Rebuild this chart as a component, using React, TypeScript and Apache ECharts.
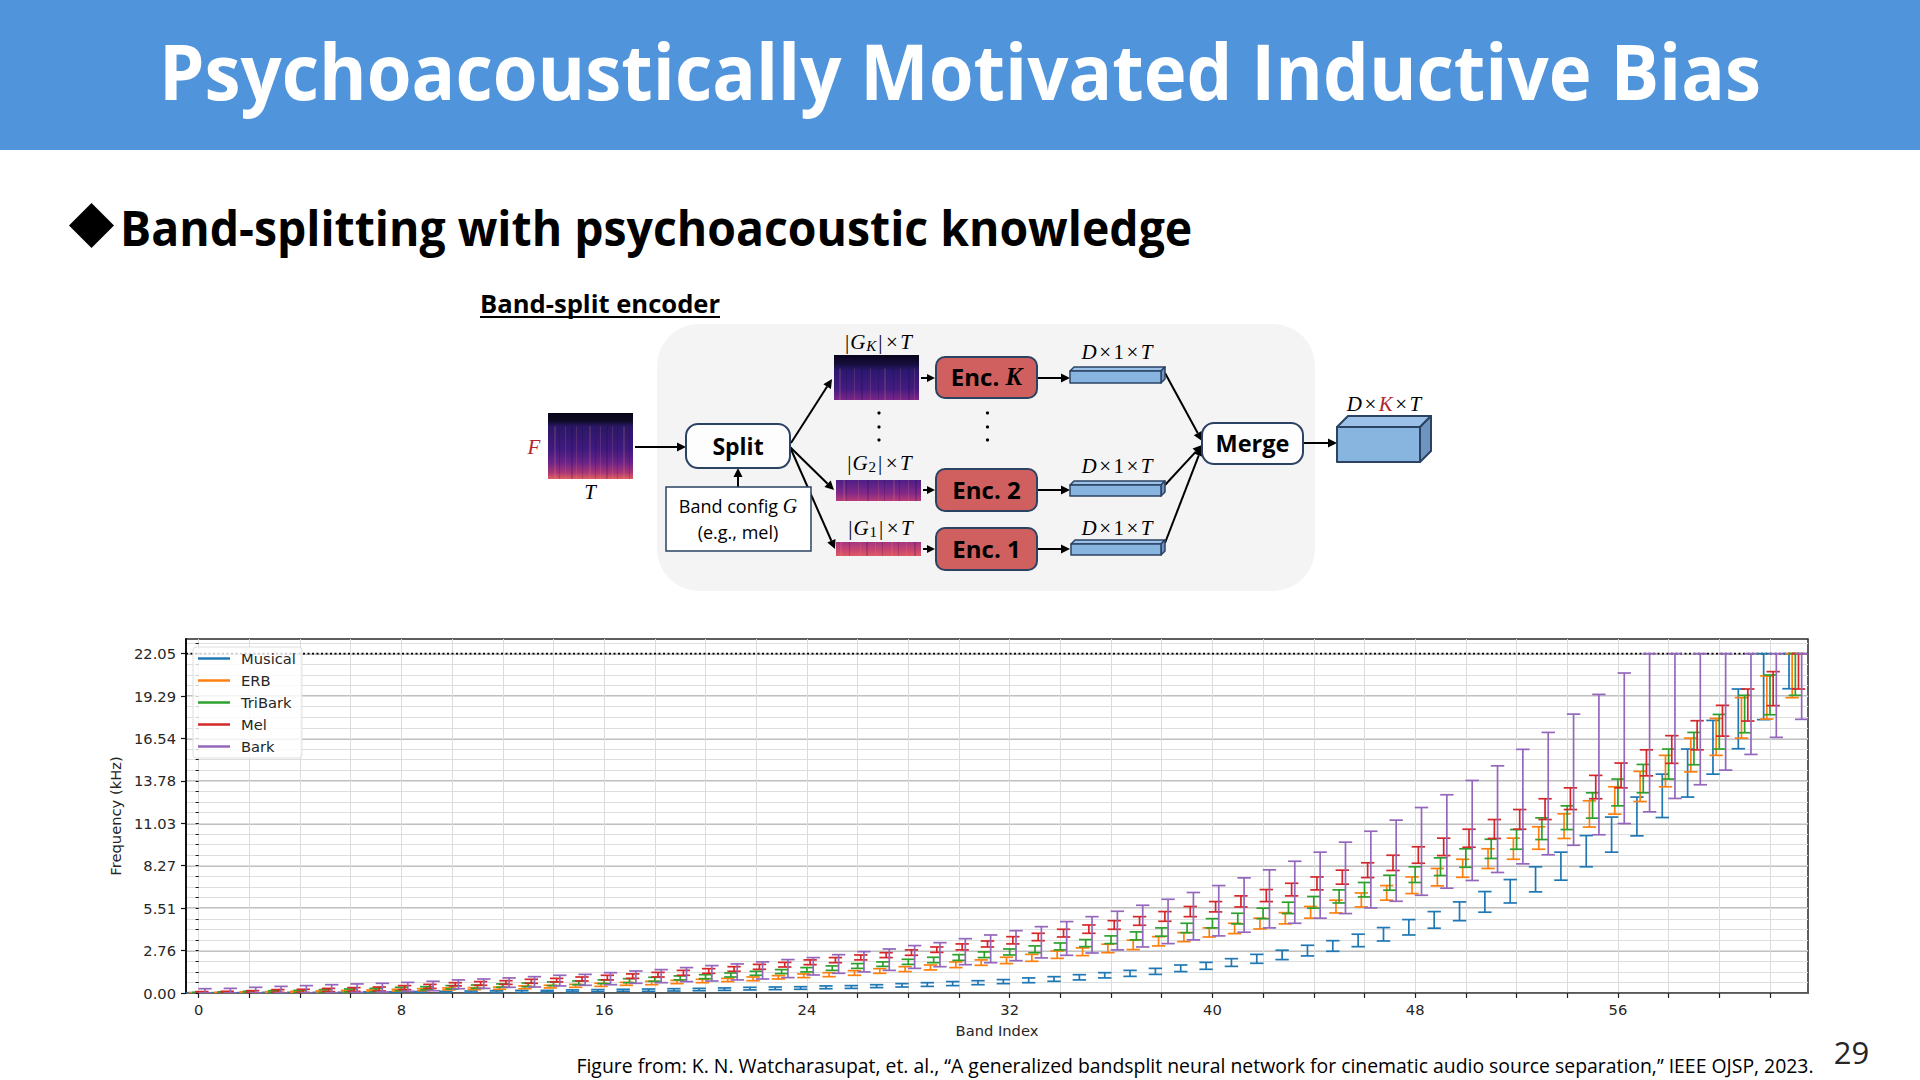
import React, { useEffect, useRef } from "react";
import * as echarts from "echarts";

const seriesNames = ["Musical", "ERB", "TriBark", "Mel", "Bark"];
const seriesColors = ["#1f77b4", "#ff7f0e", "#2ca02c", "#d62728", "#9467bd"];
const bandOffsets = [-0.25, -0.125, 0, 0.125, 0.25];
const xTickLabels = [0, 8, 16, 24, 32, 40, 48, 56];
const xTicks = [0,2,4,6,8,10,12,14,16,18,20,22,24,26,28,30,32,34,36,38,40,42,44,46,48,50,52,54,56,58,60,62];
const yMajor = [0, 2.75625, 5.5125, 8.26875, 11.025, 13.78125, 16.5375, 19.29375, 22.05];
const yMinor = [0,0.689,1.378,2.067,2.756,3.445,4.134,4.823,5.513,6.202,6.891,7.58,8.269,8.958,9.647,10.336,11.025,11.714,12.403,13.092,13.781,14.47,15.159,15.848,16.538,17.227,17.916,18.605,19.294,19.983,20.672,21.361,22.05,22.739];
const nyquist = 22.05;

const musicalLow = [0,0,0,0,0,0,.02,.02,.02,.02,.02,.02,.04,.04,.07,.07,.09,.11,.11,.13,.15,.17,.20,.22,.24,
  .28,.30,.35,.39,.43,.48,.54,.61,.67,.76,.85,.98,1.08,1.21,1.39,1.54,1.73,1.93,2.17,2.41,
  2.71,3.01,3.38,3.77,4.21,4.70,5.25,5.85,6.57,7.33,8.20,9.15,10.21,11.40,12.73,14.22,15.87,17.76,19.77];
const musicalHigh = [.02,.02,.02,.04,.04,.04,.04,.07,.07,.09,.11,.13,.15,.17,.17,.20,.22,.24,.26,.28,.30,.33,.37,.39,.41,
  .46,.48,.54,.61,.67,.74,.80,.87,.98,1.06,1.19,1.32,1.47,1.60,1.82,1.99,2.23,2.51,2.78,3.10,
  3.40,3.82,4.25,4.77,5.29,5.92,6.59,7.37,8.20,9.15,10.23,11.43,12.73,14.22,15.85,17.71,19.75,22.05,22.05];
const erbLow = [0,0,0,.02,.04,.07,.09,.11,.13,.15,.20,.22,.24,.28,.33,.37,.43,.50,.54,.61,.67,.74,.80,.91,1.00,
  1.06,1.15,1.28,1.39,1.50,1.65,1.80,1.91,2.06,2.25,2.43,2.62,2.82,3.06,3.34,3.64,3.86,4.16,4.49,4.86,
  5.20,5.59,6.03,6.46,6.96,7.52,8.09,8.69,9.34,10.04,10.78,11.62,12.44,13.40,14.37,15.44,16.56,17.80,19.19];
const erbHigh = [.02,.04,.07,.09,.11,.13,.17,.20,.24,.28,.33,.35,.39,.46,.50,.56,.63,.69,.76,.82,.89,.95,1.04,1.13,1.24,
  1.32,1.45,1.58,1.71,1.82,2.02,2.15,2.32,2.51,2.73,2.93,3.17,3.43,3.66,3.92,4.23,4.53,4.86,5.22,5.62,
  6.03,6.50,6.98,7.54,8.09,8.69,9.37,10.06,10.80,11.64,12.49,13.40,14.40,15.44,16.56,17.84,19.19,20.60,22.05];
const triBarkLow = [0,0,0,.02,.02,.04,.07,.09,.15,.20,.26,.30,.37,.41,.48,.54,.61,.67,.76,.85,.93,1.04,1.15,1.26,1.37,
  1.47,1.60,1.73,1.86,1.97,2.12,2.30,2.47,2.62,2.80,3.01,3.21,3.45,3.69,3.92,4.23,4.49,4.83,5.16,5.51,
  5.85,6.24,6.68,7.18,7.63,8.17,8.74,9.34,9.97,10.62,11.36,12.16,13.01,13.90,14.83,15.85,16.91,18.08,19.34];
const triBarkHigh = [.04,.07,.11,.15,.17,.22,.26,.30,.37,.41,.48,.52,.59,.65,.72,.78,.85,.93,1.02,1.11,1.19,1.30,1.41,1.52,1.65,
  1.76,1.91,2.02,2.19,2.32,2.49,2.67,2.86,3.06,3.25,3.47,3.71,3.97,4.23,4.53,4.83,5.18,5.51,5.90,6.27,
  6.70,7.18,7.65,8.20,8.78,9.37,9.99,10.62,11.38,12.16,13.01,13.90,14.85,15.85,16.93,18.10,19.34,20.66,22.05];
const melLow = [0,0,.02,.04,.04,.09,.11,.13,.22,.30,.46,.50,.56,.63,.72,.78,.85,.95,1.04,1.15,1.28,1.41,1.54,1.69,1.84,
  1.97,2.15,2.30,2.45,2.64,2.80,2.99,3.19,3.40,3.64,3.88,4.14,4.40,4.66,4.96,5.27,5.59,5.94,6.31,6.70,
  7.07,7.50,7.96,8.43,8.93,9.47,10.04,10.64,11.27,11.92,12.62,13.33,14.11,14.92,15.80,16.69,17.67,18.67,19.75];
const melHigh = [.09,.11,.15,.22,.24,.30,.35,.39,.48,.56,.67,.74,.80,.89,.95,1.04,1.15,1.24,1.34,1.47,1.58,1.71,1.86,1.99,2.15,
  2.30,2.47,2.62,2.80,2.99,3.19,3.38,3.66,3.88,4.14,4.42,4.70,4.96,5.29,5.62,5.94,6.31,6.72,7.13,7.54,
  7.98,8.46,8.95,9.50,10.06,10.64,11.27,11.92,12.62,13.33,14.14,14.94,15.80,16.72,17.69,18.69,19.75,20.88,22.05];
const barkLow = [0,0,0,0,0,.02,.04,.07,.11,.15,.28,.30,.37,.39,.46,.50,.54,.63,.67,.74,.78,.85,.91,1.00,1.17,
  1.28,1.37,1.47,1.60,1.71,1.84,1.97,2.10,2.28,2.45,2.60,2.80,2.99,3.21,3.45,3.71,3.95,4.23,4.53,4.86,
  5.16,5.53,5.96,6.35,6.81,7.31,7.83,8.39,8.98,9.60,10.28,11.01,11.77,12.64,13.53,14.48,15.50,16.61,17.78];
const barkHigh = [.28,.30,.37,.43,.48,.54,.59,.63,.69,.76,.85,.91,.98,1.06,1.15,1.21,1.32,1.43,1.52,1.65,1.78,1.89,2.02,2.17,2.30,
  2.49,2.69,2.86,3.08,3.27,3.53,3.77,4.05,4.31,4.64,4.96,5.31,5.70,6.09,6.53,6.98,7.48,8.00,8.56,9.15,
  9.80,10.51,11.23,12.05,12.88,13.81,14.76,15.83,16.93,18.12,19.40,20.79,22.05,22.05,22.05,22.05,22.05,22.05,22.05];

const lows = [musicalLow, erbLow, triBarkLow, melLow, barkLow];
const highs = [musicalHigh, erbHigh, triBarkHigh, melHigh, barkHigh];

const UI = "'Open Sans', 'Noto Sans', sans-serif";
const SERIF = "'Liberation Serif', 'DejaVu Serif', serif";
const MPL = "'DejaVu Sans', sans-serif";
const NAVY = "#2b4263";

function arrow(x1: number, y1: number, x2: number, y2: number, head = 9) {
  const a = Math.atan2(y2 - y1, x2 - x1);
  const bx = x2 - head * Math.cos(a), by = y2 - head * Math.sin(a);
  const w = head * 0.5;
  return [
    { type: "line", shape: { x1, y1, x2: bx, y2: by }, style: { stroke: "#000", lineWidth: 2 } },
    { type: "polygon", shape: { points: [[x2, y2], [bx - w * Math.sin(a), by + w * Math.cos(a)], [bx + w * Math.sin(a), by - w * Math.cos(a)]] }, style: { fill: "#000" } },
  ];
}
function label(x: number, y: number, text: string, style: any = {}, extra: any = {}) {
  return { type: "text", x, y, ...extra, style: { text, fontFamily: UI, fill: "#000", align: "center", verticalAlign: "middle", ...style } };
}
function box(x: number, y: number, w: number, h: number, r: number, fill: string, stroke = NAVY, lineWidth = 2) {
  return { type: "rect", shape: { x, y, width: w, height: h, r }, style: { fill, stroke, lineWidth } };
}
function grad(stops: [number, string][]) {
  return new echarts.graphic.LinearGradient(0, 0, 0, 1, stops.map(([offset, color]) => ({ offset, color })));
}
// A spectrogram thumbnail: a vertical colour ramp with a few hand-placed light streaks.
function spec(x: number, y: number, w: number, h: number, stops: [number, string][], streaks: number[], from = 0.25) {
  return [
    { type: "rect", shape: { x, y, width: w, height: h }, style: { fill: grad(stops) } },
    ...streaks.map((dx, i) => ({
      type: "rect",
      shape: { x: x + dx, y: y + h * from, width: i % 3 === 0 ? 2 : 1, height: h * (1 - from) },
      style: { fill: i % 2 === 0 ? "rgba(255,150,120,0.16)" : "rgba(20,5,60,0.2)" },
    })),
  ];
}
function bar3d(x: number, y: number, w: number, h: number, d: number, lw = 1.5) {
  const st = { stroke: NAVY, lineWidth: lw, lineJoin: "round" };
  return [
    { type: "polygon", shape: { points: [[x, y], [x + d, y - d], [x + w + d, y - d], [x + w, y]] }, style: { fill: "#9cc1e8", ...st } },
    { type: "polygon", shape: { points: [[x + w, y], [x + w + d, y - d], [x + w + d, y + h - d], [x + w, y + h]] }, style: { fill: "#6e94bf", ...st } },
    { type: "rect", shape: { x, y, width: w, height: h }, style: { fill: "#88b4e0", ...st } },
  ];
}
const mathRich = {
  i: { fontFamily: SERIF, fontStyle: "italic", fontSize: 21, fill: "#000" },
  n: { fontFamily: SERIF, fontSize: 21, fill: "#000" },
  x: { fontFamily: SERIF, fontSize: 21, fill: "#000", padding: [0, 2.5, 0, 2.5] },
  b: { fontFamily: SERIF, fontSize: 21, fill: "#000", padding: [0, 1, 0, 1] },
  r: { fontFamily: SERIF, fontStyle: "italic", fontSize: 21, fill: "#b3262c" },
  s: { fontFamily: SERIF, fontStyle: "italic", fontSize: 15, fill: "#000", padding: [7, 1, 0, 1] },
  u: { fontFamily: SERIF, fontSize: 15, fill: "#000", padding: [7, 1, 0, 1] },
};
function mathText(x: number, y: number, text: string) {
  return label(x, y, text, { rich: mathRich });
}
const DIM = "{i|D}{x|×}{n|1}{x|×}{i|T}";
const dots = (x: number) => [413, 427, 440].map((y) => ({ type: "circle", shape: { cx: x, cy: y, r: 1.6 }, style: { fill: "#000" } }));

function slideGraphics(): any[] {
  const encBold = { fontSize: 24, fontWeight: "bold" };
  return [
    { type: "rect", shape: { x: 0, y: 0, width: 1920, height: 150 }, style: { fill: "#5094DB" } },
    label(960, 70, "Psychoacoustically Motivated Inductive Bias", { fontSize: 78, fontWeight: "bold", fill: "#fff" }, { scaleX: 0.93 }),
    { type: "polygon", shape: { points: [[91.5, 203], [114, 225.5], [91.5, 248], [69, 225.5]] }, style: { fill: "#000" } },
    label(120, 228, "Band-splitting with psychoacoustic knowledge", { fontSize: 48, fontWeight: "bold", align: "left" }, { scaleX: 0.966 }),
    label(480, 303, "Band-split encoder", { fontSize: 25.6, fontWeight: "bold", align: "left" }),
    { type: "rect", shape: { x: 480, y: 316, width: 240, height: 2 }, style: { fill: "#000" } },

    { type: "rect", shape: { x: 657, y: 324, width: 658, height: 267, r: 42 }, style: { fill: "#f4f4f5" } },

    ...spec(548, 413, 85, 66, [[0, "#090518"], [0.12, "#0e0a24"], [0.2, "#2a1766"], [0.55, "#3f1a7f"], [0.75, "#6b2388"], [0.9, "#a83578"], [1, "#e0605f"]],
      [6, 11, 17, 23, 28, 34, 41, 47, 52, 58, 64, 69, 75, 81], 0.2),
    ...spec(834, 355, 85, 45, [[0, "#07041a"], [0.2, "#160e3c"], [0.35, "#2c1870"], [0.75, "#431b80"], [1, "#7a2689"]],
      [5, 12, 20, 27, 36, 44, 50, 59, 66, 74, 80], 0.3),
    ...spec(836, 480, 85, 21, [[0, "#4d1f86"], [0.6, "#7e2888"], [1, "#b83c78"]],
      [7, 10, 22, 31, 42, 48, 57, 63, 72, 79], 0),
    ...spec(836, 542, 85, 14, [[0, "#a33580"], [0.6, "#c94670"], [1, "#df5a64"]],
      [4, 13, 24, 30, 39, 46, 55, 62, 70, 78], 0),

    mathText(534, 447, "{r|F}"),
    mathText(590, 492, "{i|T}"),
    mathText(878, 342, "{b||}{i|G}{s|K}{b||}{x|×}{i|T}"),
    mathText(879, 463, "{b||}{i|G}{u|2}{b||}{x|×}{i|T}"),
    mathText(880, 528, "{b||}{i|G}{u|1}{b||}{x|×}{i|T}"),
    mathText(1117, 352, DIM),
    mathText(1117, 466, DIM),
    mathText(1117, 528, DIM),
    mathText(1384, 404, "{i|D}{x|×}{r|K}{x|×}{i|T}"),

    ...arrow(635, 447, 686, 447),
    ...arrow(738, 488, 738, 468),
    ...arrow(791, 443, 832, 379),
    ...arrow(790, 447, 834, 490),
    ...arrow(790, 447, 835, 549),
    ...arrow(921, 378, 935, 378, 8),
    ...arrow(923, 490, 935, 490, 8),
    ...arrow(923, 549, 935, 549, 8),
    ...arrow(1037, 378, 1070, 378),
    ...arrow(1037, 490, 1070, 490),
    ...arrow(1037, 549, 1070, 549),
    ...arrow(1165, 373, 1202, 441),
    ...arrow(1165, 485, 1202, 445),
    ...arrow(1165, 543, 1202, 447),
    ...arrow(1303, 443, 1337, 443),

    box(686, 424, 104, 44, 12, "#fdfdfe"),
    label(738, 446, "Split", { fontSize: 23, fontWeight: "bold" }),
    box(666, 487, 145, 64, 0, "#fff", NAVY, 1.5),
    label(738, 506, "{a|Band config }{g|G}", { rich: { a: { fontFamily: UI, fontSize: 18, fill: "#000" }, g: { fontFamily: SERIF, fontStyle: "italic", fontSize: 20, fill: "#000" } } }),
    label(738, 532, "(e.g., mel)", { fontSize: 18 }),

    box(936, 357, 101, 41, 9, "#d0605f"),
    label(986.5, 376.5, "{a|Enc. }{k|K}", { rich: { a: { fontFamily: UI, ...encBold, fill: "#000" }, k: { fontFamily: SERIF, fontStyle: "italic", fontWeight: "bold", fontSize: 25, fill: "#000" } } }),
    box(936, 469, 101, 42, 9, "#d0605f"),
    label(986.5, 489, "Enc. 2", encBold),
    box(936, 528, 101, 42, 9, "#d0605f"),
    label(986.5, 548, "Enc. 1", encBold),

    ...bar3d(1070, 371, 91, 12, 4),
    ...bar3d(1070, 485, 91, 11, 4),
    ...bar3d(1071, 544, 90, 11, 4),

    box(1202, 423, 101, 41, 12, "#fdfdfe"),
    label(1252.5, 443, "Merge", { fontSize: 23.5, fontWeight: "bold" }),
    ...bar3d(1337, 427, 83, 35, 11, 2),

    ...dots(879),
    ...dots(987.5),

    label(1195, 1065, "Figure from: K. N. Watcharasupat, et. al., “A generalized bandsplit neural network for cinematic audio source separation,” IEEE OJSP, 2023.", { fontSize: 19.4 }),
    label(1851.5, 1052, "29", { fontSize: 31, fill: "#262626" }),
  ];
}

export default function App() {
  const ref = useRef<HTMLDivElement>(null);
  useEffect(() => {
    const chart = echarts.init(ref.current!, undefined, { renderer: "svg" });
    const errorSeries = seriesNames.map((name, s) => ({
      name,
      type: "custom",
      xAxisIndex: 0,
      yAxisIndex: 0,
      clip: true,
      z: 3,
      itemStyle: { color: seriesColors[s] },
      encode: { x: 0, y: [1, 2] },
      data: lows[s].map((lo, b) => [b + bandOffsets[s], lo, highs[s][b]]),
      renderItem: (_p: any, api: any) => {
        const x = api.value(0);
        const [px, pl] = api.coord([x, api.value(1)]);
        const [, ph] = api.coord([x, api.value(2)]);
        const cap = 6.7;
        const st = { stroke: seriesColors[s], lineWidth: 1.7, fill: "none" };
        return {
          type: "group",
          children: [
            { type: "line", shape: { x1: px, y1: pl, x2: px, y2: ph }, style: st },
            { type: "line", shape: { x1: px - cap, y1: pl, x2: px + cap, y2: pl }, style: st },
            { type: "line", shape: { x1: px - cap, y1: ph, x2: px + cap, y2: ph }, style: st },
          ],
        };
      },
    }));
    chart.setOption({
      animation: false,
      backgroundColor: "#fff",
      textStyle: { fontFamily: MPL },
      graphic: { elements: slideGraphics() },
      grid: { left: 186, top: 639, width: 1622, height: 354, show: true, borderColor: "#2a2a2a", borderWidth: 1.5, backgroundColor: "transparent" },
      legend: {
        data: seriesNames,
        orient: "vertical",
        left: 193,
        top: 647,
        padding: [3.5, 6, 3.5, 5],
        itemWidth: 32,
        itemHeight: 2.5,
        itemGap: 6,
        icon: "rect",
        backgroundColor: "rgba(255,255,255,0.8)",
        borderColor: "#dedede",
        borderWidth: 1,
        borderRadius: 3,
        selectedMode: false,
        textStyle: { fontFamily: MPL, fontSize: 14.7, color: "#262626", lineHeight: 16, padding: [0, 0, 0, 6] },
      },
      xAxis: {
        type: "value",
        min: -0.5,
        max: 63.5,
        name: "Band Index",
        nameLocation: "middle",
        nameGap: 29.5,
        nameTextStyle: { fontFamily: MPL, fontSize: 14.7, color: "#262626" },
        axisLine: { show: true, lineStyle: { color: "#444", width: 1.5 } },
        axisTick: { show: true, length: 5, customValues: xTicks, lineStyle: { color: "#222", width: 1.2 } },
        axisLabel: { customValues: xTickLabels, fontFamily: MPL, fontSize: 14.7, color: "#262626", margin: 9 },
        splitLine: { show: true, lineStyle: { color: "#dcdcdc", width: 1 } },
      },
      yAxis: [
        {
          type: "value",
          min: 0,
          max: 23,
          name: "Frequency (kHz)",
          nameLocation: "middle",
          nameRotate: 90,
          nameGap: 57.5,
          nameTextStyle: { fontFamily: MPL, fontSize: 14.7, color: "#262626" },
          axisLine: { show: true, onZero: false, lineStyle: { color: "#111", width: 2 } },
          axisTick: { show: true, length: 5, customValues: yMajor, lineStyle: { color: "#111", width: 1.2 } },
          axisLabel: { customValues: yMajor, formatter: (v: number) => v.toFixed(2), fontFamily: MPL, fontSize: 14.7, color: "#262626", margin: 10 },
          splitLine: { show: true, z: 1, lineStyle: { color: "#ababab", width: 1.5 } },
        },
        {
          type: "value",
          min: 0,
          max: 23,
          position: "left",
          axisLine: { show: false },
          axisTick: { show: true, length: 3, customValues: yMinor, lineStyle: { color: "#111", width: 1 } },
          axisLabel: { show: false },
          splitLine: { show: true, lineStyle: { color: "#dedede", width: 1 } },
        },
      ],
      series: [
        {
          name: "Nyquist",
          type: "line",
          xAxisIndex: 0,
          yAxisIndex: 0,
          symbol: "none",
          silent: true,
          z: 2,
          data: [[-0.5, nyquist], [63.5, nyquist]],
          lineStyle: { color: "#000", width: 1.8, type: [2, 2.5] },
        },
        ...errorSeries,
      ],
    });
    return () => chart.dispose();
  }, []);
  return <div ref={ref} style={{ position: "absolute", left: 0, top: 0, width: 1920, height: 1080 }} />;
}
